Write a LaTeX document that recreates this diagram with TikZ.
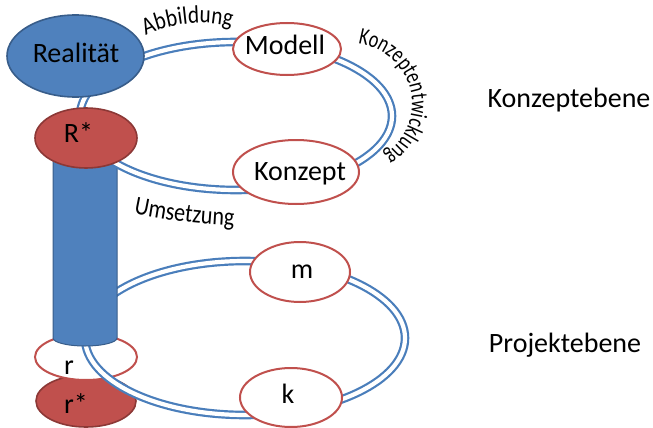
\documentclass[tikz,border=0pt]{standalone}
\usepackage{fontspec}
\setmainfont{Carlito}
\newfontfamily\arcfont{Carlito}[FakeStretch=0.85]
\newfontfamily\narrowarcfont{Carlito}[FakeStretch=0.75]
\usetikzlibrary{shapes.geometric,decorations.text}
\definecolor{bluefill}{HTML}{4F81BD}
\definecolor{blueedge}{HTML}{385D8A}
\definecolor{redfill}{HTML}{C0504D}
\definecolor{rededge}{HTML}{8C3836}
\definecolor{ringblue}{HTML}{4A7EBB}
\begin{document}
\begin{tikzpicture}[x=1pt,y=-1pt,
  ring/.style={draw=ringblue, line width=2.2pt, double=white, double distance=4.2pt},
  oval/.style={ellipse, inner sep=0pt, outer sep=0pt},
  bluefilled/.style={oval, fill=bluefill, draw=blueedge, line width=1.6pt},
  redfilled/.style={oval, fill=redfill, draw=rededge, line width=1.6pt},
  hollow/.style={oval, fill=white, draw=redfill, line width=2pt},
  word/.style={font=\fontsize{28}{30}\selectfont, inner sep=0pt, anchor=base},
  arclabel/.style={decorate, decoration={text along path, text align=center, text={#1}}},
  arclabelleft/.style={decorate, decoration={text along path, text align=left, text={#1}}},
]
\useasboundingbox (0,0) rectangle (653,428);

% ---- project level ----
\node[redfilled, minimum width=100pt, minimum height=52pt] (rs) at (86,401) {};
\node[hollow, minimum width=102pt, minimum height=46pt] (r) at (86,357) {};
\draw[ring] (245,338) ellipse [x radius=160pt, y radius=77pt];
\node[hollow, minimum width=100pt, minimum height=60pt] (m) at (300,272) {};
\node[hollow, minimum width=102pt, minimum height=59pt] (k) at (291,397.5) {};

% column linking both levels
\draw[fill=bluefill, draw=blueedge, line width=1pt]
  (53,150) -- (53,338) arc[start angle=180, end angle=360, x radius=32pt, y radius=8pt]
  -- (117,150) -- cycle;

% ---- concept level ----
\draw[ring] (236,116) ellipse [x radius=156pt, y radius=74pt];
\node[bluefilled, minimum width=137pt, minimum height=82pt] (real) at (75.5,56) {};
\node[redfilled, minimum width=102pt, minimum height=60pt] (Rs) at (86,138) {};
\node[hollow, minimum width=108pt, minimum height=52pt] (mod) at (287,49) {};
\node[hollow, minimum width=126pt, minimum height=64pt] (kon) at (296,172) {};

% node texts
\node[word] (realtxt) at (76,63) {Realität};
\node[word] (Rstxt) at (78.5,142) {R*};
\node[word] (modtxt) at (285,55) {Modell};
\node[word] (kontxt) at (300,180) {Konzept};
\node[word] (mtxt) at (302,278) {m};
\node[word] (ktxt) at (288,403) {k};
\node[word] (rtxt) at (69,374) {r};
\node[word] (rstxt) at (76,413) {r*};

% level names
\node[word] (ebene1) at (569,107) {Konzeptebene};
\node[word] (ebene2) at (565,352) {Projektebene};

% curved labels
\path[arclabel={|\arcfont\fontsize{25}{25}\selectfont|Abbildung}]
  (200,150) ++(122:127pt) arc[start angle=122, end angle=69, radius=127pt];
\path[arclabelleft={|\narrowarcfont\fontsize{24}{24}\selectfont|Konzeptentwicklung}]
  (348,104) ++(81:64pt and 61pt) arc[start angle=81, end angle=-80, x radius=64pt, y radius=61pt];
\path[arclabel={|\arcfont\fontsize{26}{26}\selectfont|Umsetzung}]
  (118,210) .. controls (160,220) and (200,225) .. (250,226);
\end{tikzpicture}
\end{document}
